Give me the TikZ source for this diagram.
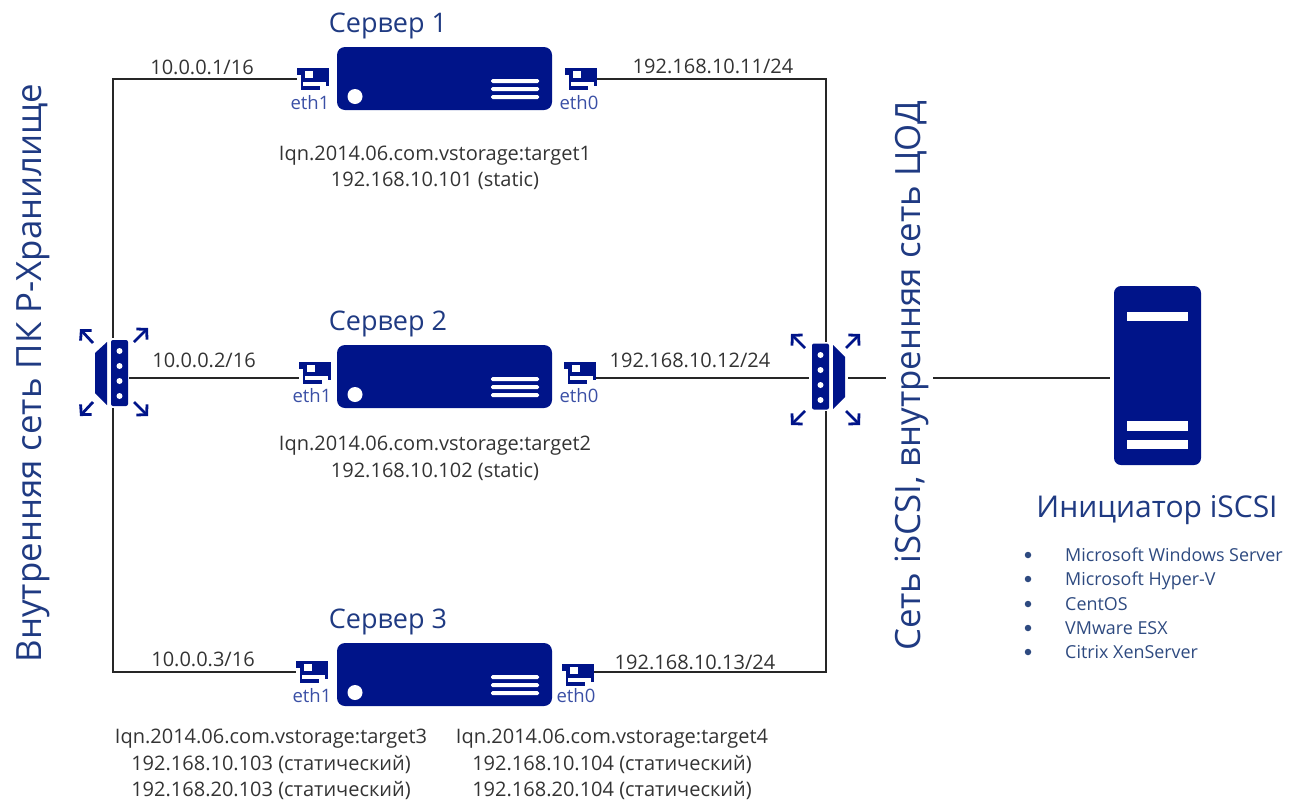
\documentclass[tikz,border=0pt]{standalone}
\usepackage{fontspec}
\setmainfont{Open Sans}
\usetikzlibrary{arrows.meta}
\definecolor{navy}{HTML}{001489}
\definecolor{titleblue}{HTML}{1F3A82}
\definecolor{nicblue}{HTML}{3A4FA5}
\definecolor{labelgray}{HTML}{333333}
\definecolor{listblue}{HTML}{2E4A80}
\newcommand{\fs}[1]{\fontsize{#1}{#1}\selectfont}
\tikzset{
  x=1pt,y=-1pt,
  wire/.style={draw=black!85,line width=1.2pt},
  srvbox/.style={fill=navy,draw=none,rounded corners=8pt,minimum width=215pt,minimum height=63pt,inner sep=0pt},
  nicbox/.style={fill=navy,draw=none,minimum width=32pt,minimum height=22pt,inner sep=0pt},
  swbody/.style={fill=navy,draw=none,rounded corners=2pt,minimum width=17pt,minimum height=66pt,inner sep=0pt},
  swdot/.style={fill=white,draw=none,circle,minimum size=6pt,inner sep=0pt},
  swarrow/.style={draw=navy,line width=2.8pt,-{Straight Barb[length=7pt,width=15pt,line width=2.8pt]}},
  title/.style={text=titleblue,font=\fs{27},inner sep=0pt},
  iplabel/.style={text=labelgray,font=\fs{20},inner sep=0pt,text height=14pt,text depth=4pt},
  ethlabel/.style={text=nicblue,font=\fs{18.5},inner sep=0pt},
  biglabel/.style={text=titleblue,font=\fs{34.8},rotate=90,inner sep=0pt},
  listitem/.style={text=listblue,font=\fs{17.9},anchor=west,inner sep=0pt,text height=13pt,text depth=4pt},
  bulletdot/.style={fill=listblue,draw=none,circle,minimum size=6.5pt,inner sep=0pt},
}
% name, centre x, centre y
\newcommand{\nicicon}[3]{%
  \node[nicbox] (#1) at (#2,#3) {};
  \fill[white] (#2-16,#3-4) rectangle (#2-12.5,#3+11);
  \fill[white] (#2-8,#3-8) rectangle (#2+0,#3-1);
  \fill[white] (#2-10,#3+3) rectangle (#2+13,#3+6.5);
  \fill[white] (#2+7,#3+6.5) rectangle (#2+16,#3+11);
}
% name, centre y
\newcommand{\servericon}[2]{%
  \node[srvbox] (#1) at (444.5,#2) {};
  \fill[white] (355,#2+18) circle (7.5);
  \foreach \d in {2.5,10.5,18.5}
    \fill[white,rounded corners=1.5pt] (491,#2+\d-2) rectangle (539,#2+\d+2);
}
\begin{document}
\begin{tikzpicture}
\useasboundingbox (0,0) rectangle (1296,801);

% named junctions
\coordinate (lt) at (113,79);
\coordinate (lb) at (113,672);
\coordinate (rt) at (826,79);
\coordinate (rb) at (826,672);

% switches (named first, wires are drawn below them)
\node[swbody] (swl) at (119.5,373) {};
\node[swbody] (swr) at (820.5,376.5) {};

% NICs
\nicicon{n1l}{313}{79}
\nicicon{n1r}{581}{79}
\nicicon{n2l}{315}{373}
\nicicon{n2r}{580}{373}
\nicicon{n3l}{312}{672}
\nicicon{n3r}{578}{675}

% servers
\servericon{s1}{78.5}
\servericon{s2}{376.5}
\servericon{s3}{674.5}

% big initiator host
\node[fill=navy,draw=none,rounded corners=7pt,minimum width=87pt,minimum height=179pt,inner sep=0pt] (host) at (1157.5,375.5) {};
\fill[white] (1127,312) rectangle (1188,321);
\fill[white] (1127,421) rectangle (1188,431);
\fill[white] (1127,440) rectangle (1188,449);

% wires
\draw[wire] (n1l.west) -- (lt) -- (lb) -- (n3l.west);
\draw[wire] (n1r.east) -- (rt) -- (rb) -- (n3r.east |- rb);
\draw[wire] (swl.east |- 0,378) -- (n2l.west |- 0,378);
\draw[wire] (n2r.east |- 0,378) -- (swr.west |- 0,378);
\draw[wire] (847,378) -- (1110,378);

% switch left, redrawn over the wires
\fill[white] (90,338) rectangle (129,408);
\node[swbody] at (swl) {};
\fill[navy] (107,342) -- (107,405) -- (95,393) -- (95,353) -- cycle;
\foreach \yy in {351,366,381,396} \node[swdot] at (119.5,\yy) {};
\draw[swarrow] (93,343) -- (80,329);
\draw[swarrow] (134,342) -- (148,328);
\draw[swarrow] (93,402) -- (80,416);
\draw[swarrow] (134,402) -- (148,416);

% switch right, redrawn over the wires
\fill[white] (809,342) rectangle (848,411);
\node[swbody] at (swr) {};
\fill[navy] (833,345) -- (833,409) -- (845,397) -- (845,357) -- cycle;
\foreach \yy in {355,370,385,400} \node[swdot] at (820.5,\yy) {};
\draw[swarrow] (805,348) -- (791,334);
\draw[swarrow] (846,348) -- (860,334);
\draw[swarrow] (805,411) -- (791,425);
\draw[swarrow] (846,411) -- (860,425);

% titles
\node[title] (t1) at (388,26) {Сервер 1};
\node[title] (t2) at (388,323.5) {Сервер 2};
\node[title] (t3) at (388,621.5) {Сервер 3};
\node[text=titleblue,font=\fs{30},inner sep=0pt] (t4) at (1157,510.5) {Инициатор iSCSI};

% rotated labels
\node[biglabel] (bl) at (33,373) {Внутренняя сеть ПК Р-Хранилище};
\fill[white] (886,370) rectangle (933,386);
\node[biglabel] (br) at (912,376) {Сеть iSCSI, внутренняя сеть ЦОД};

% IP labels
\node[iplabel] (a1) at (202,69) {10.0.0.1/16};
\node[iplabel] (a2) at (204,362) {10.0.0.2/16};
\node[iplabel] (a3) at (203,661) {10.0.0.3/16};
\node[iplabel] (b1) at (713,68) {192.168.10.11/24};
\node[iplabel] (b2) at (690,362) {192.168.10.12/24};
\node[iplabel] (b3) at (695,664) {192.168.10.13/24};

% eth labels
\node[ethlabel] (e1l) at (310,103) {eth1};
\node[ethlabel] (e1r) at (579,103) {eth0};
\node[ethlabel] (e2l) at (312,396) {eth1};
\node[ethlabel] (e2r) at (579,396) {eth0};
\node[ethlabel] (e3l) at (312,696) {eth1};
\node[ethlabel] (e3r) at (576,696) {eth0};

% targets
\node[iplabel] (c1) at (435,155) {Iqn.2014.06.com.vstorage:target1};
\node[iplabel] (c1b) at (435,181) {192.168.10.101 (static)};
\node[iplabel] (c2) at (435,445) {Iqn.2014.06.com.vstorage:target2};
\node[iplabel] (c2b) at (435,472) {192.168.10.102 (static)};
\node[iplabel] (c3) at (271,738) {Iqn.2014.06.com.vstorage:target3};
\node[iplabel] (c3b) at (271,765) {192.168.10.103 (статический)};
\node[iplabel] (c3c) at (271,791) {192.168.20.103 (статический)};
\node[iplabel] (c4) at (612,738) {Iqn.2014.06.com.vstorage:target4};
\node[iplabel] (c4b) at (612,765) {192.168.10.104 (статический)};
\node[iplabel] (c4c) at (612,791) {192.168.20.104 (статический)};

% list
\foreach \yy/\tx/\nm in {555/Microsoft Windows Server/l1,579/Microsoft Hyper-V/l2,604/CentOS/l3,628/VMware ESX/l4,652/Citrix XenServer/l5}{
  \node[bulletdot] (\nm d) at (1028,\yy) {};
  \node[listitem] (\nm) at (1065,\yy+2) {\tx};
}
\end{tikzpicture}
\end{document}
